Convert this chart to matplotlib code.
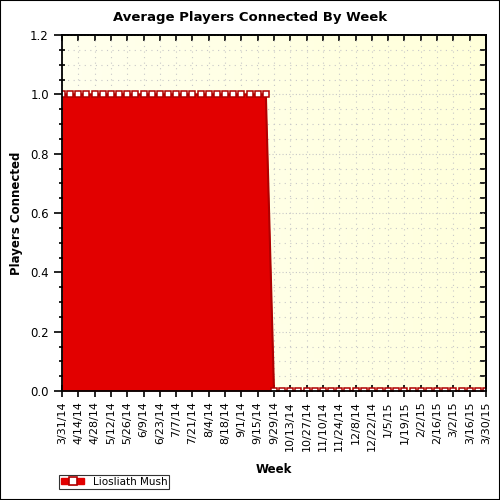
import matplotlib
matplotlib.use("Agg")
import matplotlib.pyplot as plt
from matplotlib.colors import LinearSegmentedColormap
from matplotlib.lines import Line2D
from matplotlib.patches import Patch
import numpy as np
import datetime as dt

# weekly data, 3/31/14 .. 3/30/15
start = dt.date(2014, 3, 31)
weeks = [start + dt.timedelta(days=7 * i) for i in range(53)]
players = [1.0] * 26 + [0.0] * 27
week_labels = [f"{d.month}/{d.day}/{d.year % 100}" for d in weeks]

fig = plt.figure(figsize=(5, 5), dpi=100)
ax = fig.add_axes([0.124, 0.218, 0.848, 0.712])

x = np.arange(len(weeks))

# background gradient (whiter on the left, yellower on the right)
gx, gy = np.meshgrid(np.linspace(0, 1, 64), np.linspace(0, 1, 64))
grad = (gx * 0.8 + (1 - gy) * 0.2)
bg = LinearSegmentedColormap.from_list("bg", ["#FFFFF2", "#FFFFDA"])
ax.imshow(grad, extent=[0, len(weeks) - 1, 0, 1.2], aspect="auto", cmap=bg,
          origin="upper", zorder=0)

ax.fill_between(x, players, color="#E20000", lw=0, zorder=2)
ax.plot(x, players, color="#B00000", lw=1.5, zorder=3)
ax.plot(x, players, ls="none", marker="s", ms=5, mfc="white", mec="#B00000",
        mew=1.1, zorder=4)

ax.set_xlim(0, len(weeks) - 1)
ax.set_ylim(0, 1.2)
ax.set_xticks(x[::2])
ax.set_xticklabels(week_labels[::2], rotation=90, fontsize=8)
yt = np.arange(0, 1.21, 0.2)
ymin = np.arange(0, 1.21, 0.05)
ax.set_yticks(yt)
ax.set_yticklabels([f"{v:.1f}" for v in yt], fontsize=8.5)
ax.set_yticks(ymin, minor=True)
ax.tick_params(axis="x", which="major", direction="inout", length=8, width=1.2)
ax.tick_params(axis="y", which="major", direction="out", length=6, width=1.2)
ax.tick_params(axis="y", which="minor", direction="inout", length=5, width=1.2)
ax.grid(True, which="major", axis="x", color="#C8C8C8", ls=(0, (1, 4)), lw=0.8, zorder=1)
ax.grid(True, which="minor", axis="y", color="#C8C8C8", ls=(0, (1, 4)), lw=0.8, zorder=1)
ax.grid(True, which="major", axis="y", color="#C8C8C8", ls=(0, (1, 2)), lw=0.8, zorder=1)
ax.set_axisbelow(True)
for s in ax.spines.values():
    s.set_linewidth(1.3)
    s.set_zorder(5)

secx = ax.secondary_xaxis("top")
secx.set_xticks(x[::2])
secx.set_xticklabels([])
secx.tick_params(direction="in", length=4, width=1.2)
secx.spines["top"].set_linewidth(1.3)

secy = ax.secondary_yaxis("right")
secy.set_yticks(ymin)
secy.set_yticklabels([])
secy.tick_params(direction="in", length=4, width=1.2)
secy.spines["right"].set_linewidth(1.3)

fig.text(0.5, 0.965, "Average Players Connected By Week", ha="center", va="center",
         fontsize=9.5, fontweight="bold")
ax.set_ylabel("Players Connected", fontsize=8.5, fontweight="bold", labelpad=5)
ax.set_xlabel("Week", fontsize=8.5, fontweight="bold", labelpad=8)

handle = (Patch(color="#E20000"),
          Line2D([], [], color="#B00000", lw=0, marker="s", ms=5.5, mfc="white",
                 mec="#B00000", mew=1.2))
leg = fig.legend(handles=[handle], labels=["Liosliath Mush"], loc="lower left",
                 bbox_to_anchor=(0.108, 0.012), fontsize=7.5, frameon=True,
                 fancybox=False, edgecolor="black", handlelength=2.2,
                 borderpad=0.2, handleheight=0.6)
leg.get_frame().set_linewidth(0.8)

fig.patches.append(plt.Rectangle((0, 0), 1, 1, transform=fig.transFigure,
                                 fill=False, edgecolor="black", lw=1.5))

fig.savefig("out.png", dpi=100)
